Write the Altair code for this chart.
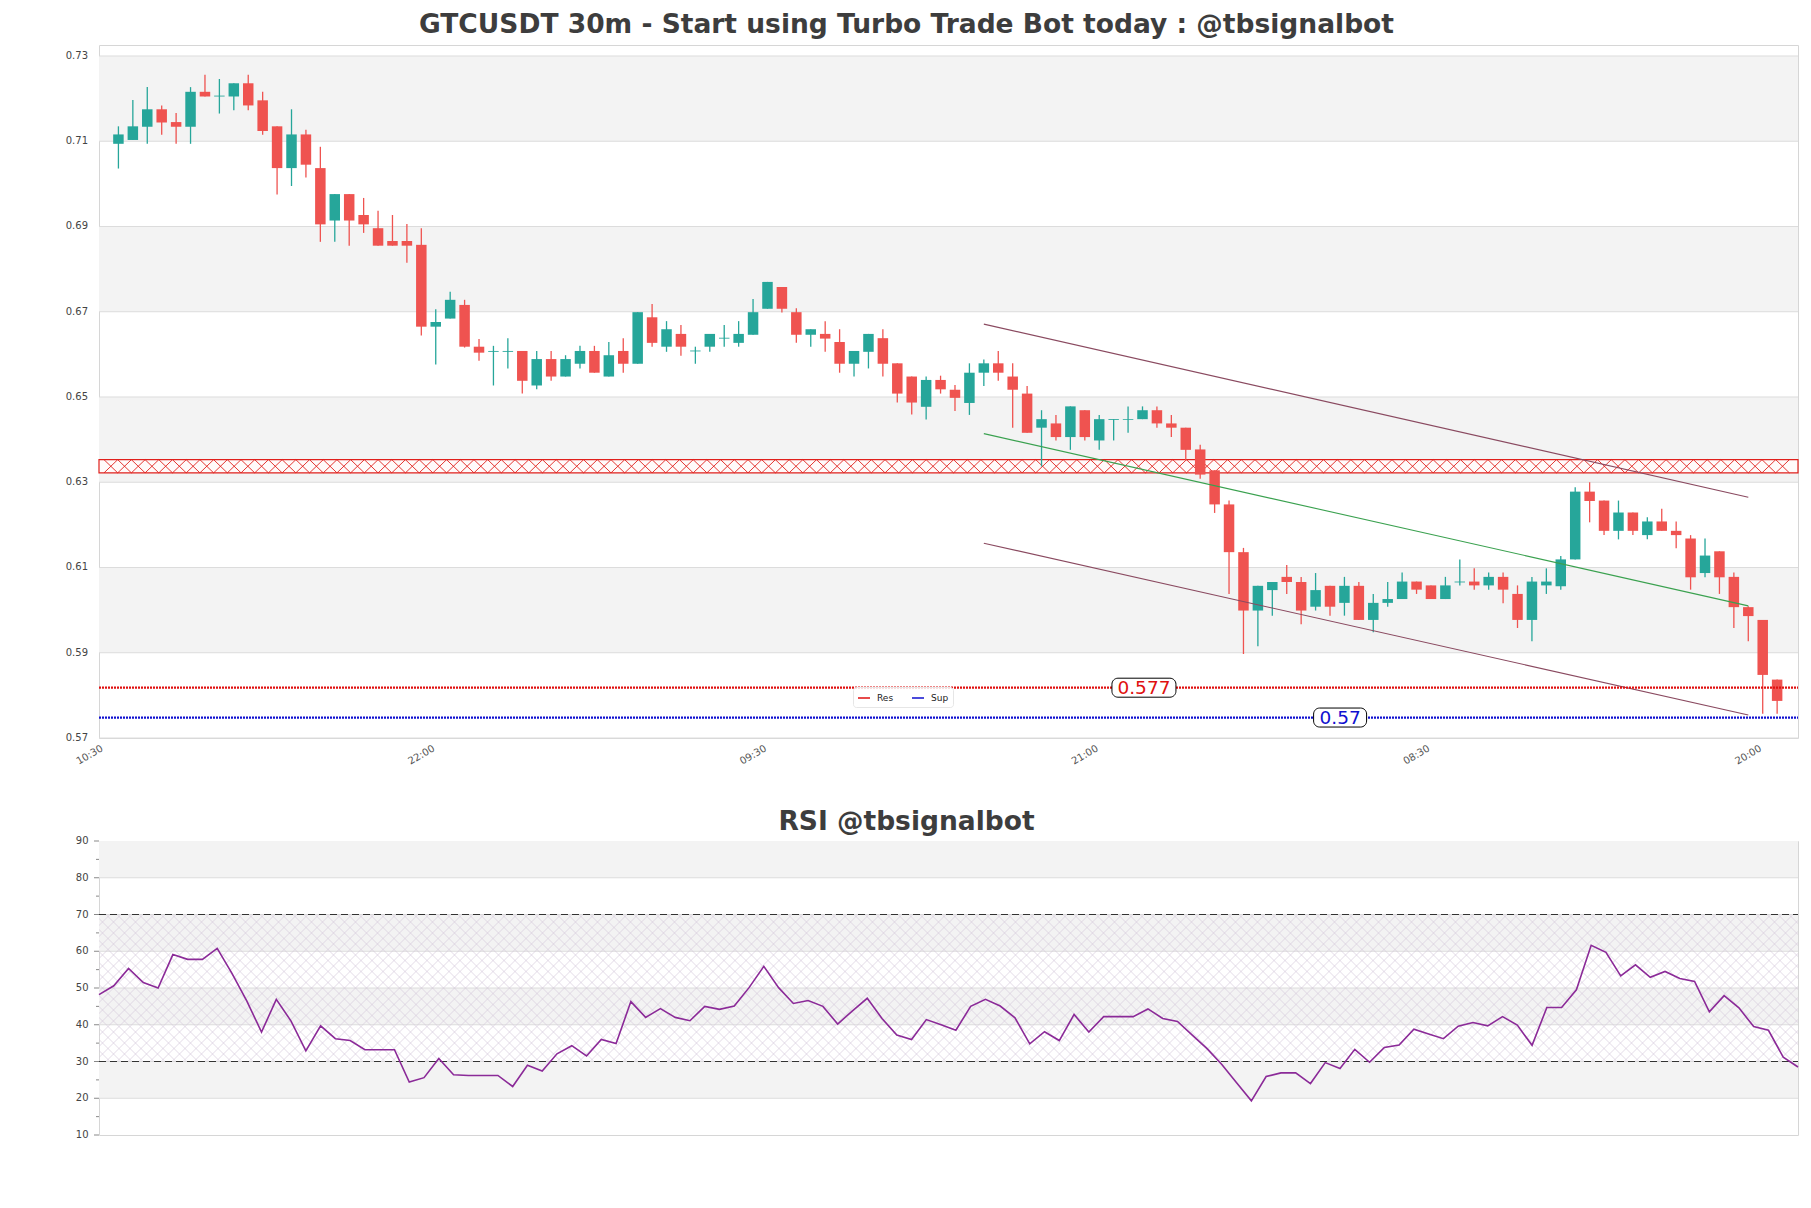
import altair as alt
import numpy as np
import pandas as pd

# ---------------- data ----------------
open_ = [0.7094, 0.7103, 0.7134, 0.7175, 0.7145, 0.7134, 0.7216, 0.7205, 0.7205, 0.7236,
         0.7196, 0.7135, 0.7037, 0.7116, 0.7037, 0.6914, 0.6976, 0.6927, 0.6896, 0.6866,
         0.6866, 0.6857, 0.6665, 0.6684, 0.6716, 0.6618, 0.6606, 0.6606, 0.6608, 0.6527,
         0.6589, 0.6548, 0.6578, 0.6608, 0.6548, 0.6608, 0.6578, 0.6687, 0.6618, 0.6648,
         0.6607, 0.6618, 0.6637, 0.6627, 0.6646, 0.6707, 0.6758, 0.6699, 0.6646, 0.6648,
         0.6629, 0.6578, 0.6606, 0.6638, 0.6579, 0.6548, 0.6477, 0.6540, 0.6517, 0.6486,
         0.6557, 0.6579, 0.6548, 0.6508, 0.6428, 0.6438, 0.6406, 0.6469, 0.6398, 0.6446,
         0.6446, 0.6448, 0.6469, 0.6438, 0.6428, 0.6377, 0.6328, 0.6248, 0.6136, 0.5999,
         0.6047, 0.6078, 0.6066, 0.6008, 0.6057, 0.6017, 0.6057, 0.5977, 0.6017, 0.6026,
         0.6067, 0.6058, 0.6026, 0.6065, 0.6067, 0.6058, 0.6078, 0.6038, 0.5977, 0.6058,
         0.6056, 0.6119, 0.6278, 0.6257, 0.6186, 0.6229, 0.6176, 0.6208, 0.6186, 0.6168,
         0.6087, 0.6138, 0.6078, 0.6007, 0.5977, 0.5837]
high = [0.7135, 0.7197, 0.7227, 0.7184, 0.7166, 0.7227, 0.7256, 0.7246, 0.7236, 0.7256,
        0.7216, 0.7135, 0.7175, 0.7127, 0.7087, 0.6976, 0.6976, 0.6967, 0.6937, 0.6927,
        0.6906, 0.6896, 0.6706, 0.6747, 0.6728, 0.6636, 0.6620, 0.6638, 0.6608, 0.6608,
        0.6608, 0.6598, 0.6620, 0.6620, 0.6629, 0.6638, 0.6699, 0.6718, 0.6678, 0.6669,
        0.6618, 0.6648, 0.6669, 0.6678, 0.6730, 0.6770, 0.6758, 0.6708, 0.6659, 0.6678,
        0.6659, 0.6608, 0.6648, 0.6659, 0.6579, 0.6548, 0.6548, 0.6550, 0.6528, 0.6579,
        0.6588, 0.6608, 0.6579, 0.6526, 0.6469, 0.6458, 0.6478, 0.6469, 0.6458, 0.6448,
        0.6478, 0.6478, 0.6478, 0.6458, 0.6428, 0.6388, 0.6328, 0.6257, 0.6146, 0.6057,
        0.6066, 0.6106, 0.6078, 0.6087, 0.6057, 0.6078, 0.6066, 0.6038, 0.6066, 0.6088,
        0.6067, 0.6058, 0.6078, 0.6119, 0.6098, 0.6088, 0.6088, 0.6058, 0.6078, 0.6098,
        0.6127, 0.6288, 0.6300, 0.6257, 0.6257, 0.6229, 0.6218, 0.6238, 0.6208, 0.6176,
        0.6168, 0.6138, 0.6088, 0.6009, 0.5977, 0.5837]
low = [0.7036, 0.7103, 0.7094, 0.7115, 0.7094, 0.7094, 0.7205, 0.7165, 0.7173, 0.7173,
       0.7115, 0.6975, 0.6995, 0.7015, 0.6864, 0.6864, 0.6855, 0.6885, 0.6855, 0.6855,
       0.6815, 0.6644, 0.6576, 0.6684, 0.6616, 0.6585, 0.6527, 0.6567, 0.6508, 0.6518,
       0.6538, 0.6548, 0.6567, 0.6557, 0.6548, 0.6557, 0.6578, 0.6618, 0.6606, 0.6597,
       0.6578, 0.6606, 0.6618, 0.6618, 0.6646, 0.6707, 0.6698, 0.6627, 0.6618, 0.6606,
       0.6557, 0.6548, 0.6567, 0.6548, 0.6487, 0.6459, 0.6447, 0.6508, 0.6467, 0.6458,
       0.6526, 0.6538, 0.6428, 0.6416, 0.6337, 0.6398, 0.6376, 0.6398, 0.6376, 0.6398,
       0.6416, 0.6448, 0.6428, 0.6406, 0.6351, 0.6308, 0.6228, 0.6038, 0.5897, 0.5915,
       0.5987, 0.6038, 0.5967, 0.5999, 0.5987, 0.5987, 0.5977, 0.5948, 0.6008, 0.6026,
       0.6038, 0.6026, 0.6026, 0.6058, 0.6048, 0.6048, 0.6016, 0.5958, 0.5927, 0.6038,
       0.6048, 0.6119, 0.6206, 0.6176, 0.6166, 0.6176, 0.6166, 0.6186, 0.6145, 0.6048,
       0.6077, 0.6038, 0.5958, 0.5927, 0.5757, 0.5757]
close = [0.7116, 0.7135, 0.7175, 0.7144, 0.7134, 0.7216, 0.7205, 0.7207, 0.7236, 0.7184,
         0.7124, 0.7037, 0.7116, 0.7045, 0.6905, 0.6976, 0.6914, 0.6905, 0.6855, 0.6855,
         0.6855, 0.6665, 0.6676, 0.6728, 0.6618, 0.6604, 0.6608, 0.6608, 0.6538, 0.6589,
         0.6548, 0.6589, 0.6608, 0.6557, 0.6598, 0.6578, 0.6699, 0.6627, 0.6659, 0.6618,
         0.6609, 0.6648, 0.6639, 0.6648, 0.6699, 0.6770, 0.6707, 0.6646, 0.6659, 0.6637,
         0.6578, 0.6608, 0.6648, 0.6578, 0.6508, 0.6487, 0.6540, 0.6518, 0.6498, 0.6557,
         0.6579, 0.6557, 0.6517, 0.6416, 0.6448, 0.6406, 0.6478, 0.6406, 0.6448, 0.6448,
         0.6448, 0.6469, 0.6438, 0.6428, 0.6376, 0.6318, 0.6248, 0.6136, 0.5999, 0.6057,
         0.6066, 0.6066, 0.5999, 0.6047, 0.6008, 0.6057, 0.5977, 0.6017, 0.6026, 0.6067,
         0.6048, 0.6026, 0.6058, 0.6067, 0.6058, 0.6078, 0.6048, 0.5977, 0.6067, 0.6067,
         0.6119, 0.6278, 0.6256, 0.6186, 0.6229, 0.6186, 0.6208, 0.6186, 0.6176, 0.6077,
         0.6128, 0.6077, 0.6007, 0.5986, 0.5848, 0.5787]

rsi = [48.2, 50.6, 55.3, 51.5, 50.0, 59.1, 57.8, 57.8, 60.8, 54.0,
       46.5, 38.0, 46.9, 41.0, 32.9, 39.7, 36.2, 35.7, 33.2, 33.2,
       33.2, 24.4, 25.6, 30.8, 26.4, 26.2, 26.2, 26.2, 23.2, 29.0,
       27.4, 32.1, 34.3, 31.5, 36.0, 34.9, 46.3, 42.0, 44.4, 42.0,
       41.1, 45.0, 44.2, 45.1, 50.1, 55.9, 50.1, 45.8, 46.6, 45.0,
       40.2, 43.8, 47.2, 41.7, 37.2, 36.0, 41.4, 40.0, 38.5, 45.0,
       46.9, 45.1, 41.9, 34.8, 38.1, 35.7, 42.8, 38.0, 42.2, 42.2,
       42.2, 44.3, 41.7, 40.9, 37.2, 33.5, 29.2, 24.2, 19.3, 25.9,
       26.9, 26.9, 24.0, 29.7, 28.1, 33.3, 29.8, 33.8, 34.5, 38.8,
       37.5, 36.2, 39.6, 40.6, 39.7, 42.2, 39.9, 34.4, 44.7, 44.7,
       49.5, 61.6, 59.7, 53.3, 56.3, 52.9, 54.5, 52.6, 51.8, 43.5,
       47.9, 44.6, 39.5, 38.5, 31.2, 28.5]

tick_index = [0, 23, 46, 69, 92, 115]
tick_labels = ["10:30", "22:00", "09:30", "21:00", "08:30", "20:00"]
price_ticks = [0.57, 0.59, 0.61, 0.63, 0.65, 0.67, 0.69, 0.71, 0.73]
rsi_ticks = [10, 20, 30, 40, 50, 60, 70, 80, 90]
rsi_minor = [15, 25, 35, 45, 55, 65, 75, 85]

res_level, res_text, res_pos = 0.5818, "0.577", 72.1
sup_level, sup_text, sup_pos = 0.5748, "0.57", 85.7
zone_low, zone_high = 0.6322, 0.6353

chan_x = [61, 114]
chan_upper = [0.6671, 0.6265]
chan_mid = [0.6414, 0.6010]
chan_lower = [0.6157, 0.5754]

main_title = "GTCUSDT 30m - Start using Turbo Trade Bot today : @tbsignalbot"
rsi_title = "RSI @tbsignalbot"

# ---------------- layout constants ----------------
W, H1, H2 = 1699, 693, 294
X_MAX = 117.1
TITLE_X = 807.5
UP, DOWN = "#26a69a", "#ef5350"
BAND = "#f3f3f3"
GRID = "#dcdcdc"
TXT = "#444444"
RES_C, SUP_C = "#e01010", "#1010d0"

xs = alt.Scale(domain=[0, X_MAX], nice=False, zero=False)
ys = alt.Scale(domain=[0.57, 0.73258], nice=False, zero=False)

candles = pd.DataFrame({"k": np.arange(1, len(open_) + 1), "open": open_, "high": high,
                        "low": low, "close": close})
is_up = "datum.close >= datum.open"

bands = pd.DataFrame({"y": [0.71, 0.67, 0.63, 0.59], "y2": [0.73, 0.69, 0.65, 0.61]})
band_layer = alt.Chart(bands).mark_rect(color=BAND).encode(
    x=alt.value(0), x2=alt.value(W),
    y=alt.Y("y:Q", scale=ys, axis=None), y2="y2:Q")

grid_layer = alt.Chart(pd.DataFrame({"y": price_ticks})).mark_rule(color=GRID, strokeWidth=1).encode(
    x=alt.value(0), x2=alt.value(W), y=alt.Y("y:Q", scale=ys, axis=None))

# tick labels (drawn through the scales)
ylab = pd.DataFrame({"v": price_ticks, "t": ["%.2f" % v for v in price_ticks]})
ylab_layer = alt.Chart(ylab).mark_text(align="right", baseline="middle", fontSize=10, color=TXT,
                                       dx=-11).encode(
    x=alt.value(0), y=alt.Y("v:Q", scale=ys, axis=None), text="t:N")
xlab = pd.DataFrame({"v": tick_index, "t": tick_labels})
xlab_layer = alt.Chart(xlab).mark_text(align="right", baseline="top", fontSize=10, color="#555555",
                                       angle=330, dx=-5).encode(
    x=alt.X("v:Q", scale=xs, axis=None), y=alt.value(H1 + 3), text="t:N")

# hatched resistance zone
p = 0.95
x0 = np.arange(0, X_MAX - p + 1e-9, p)
n = len(x0)
hatch = pd.DataFrame({"x": np.concatenate([x0, x0]), "x2": np.concatenate([x0 + p, x0 + p]),
                      "y": [zone_low] * n + [zone_high] * n, "y2": [zone_high] * n + [zone_low] * n})
zone_fill = alt.Chart(pd.DataFrame({"y": [zone_low], "y2": [zone_high]})).mark_rect(
    fill="#fffafa", stroke="#e0201c", strokeWidth=1.2).encode(
    x=alt.value(0), x2=alt.value(W), y=alt.Y("y:Q", scale=ys, axis=None), y2="y2:Q")
zone_hatch = alt.Chart(hatch).mark_rule(color="#e0201c", strokeWidth=0.9).encode(
    x=alt.X("x:Q", scale=xs, axis=None), x2="x2:Q",
    y=alt.Y("y:Q", scale=ys, axis=None), y2="y2:Q")

wicks = alt.Chart(candles).mark_rule(strokeWidth=1.3).encode(
    x=alt.X("k:Q", scale=xs, axis=None),
    y=alt.Y("low:Q", scale=ys, axis=None), y2="high:Q",
    color=alt.condition(is_up, alt.value(UP), alt.value(DOWN)))
bodies = alt.Chart(candles).mark_bar(size=10.5).encode(
    x=alt.X("k:Q", scale=xs, axis=None),
    y=alt.Y("open:Q", scale=ys, axis=None), y2="close:Q",
    color=alt.condition(is_up, alt.value(UP), alt.value(DOWN)))

chan = pd.DataFrame({"x": [chan_x[0]] * 3, "x2": [chan_x[1]] * 3,
                     "y": [chan_upper[0], chan_lower[0], chan_mid[0]],
                     "y2": [chan_upper[1], chan_lower[1], chan_mid[1]],
                     "kind": ["edge", "edge", "mid"]})
chan_layer = alt.Chart(chan).mark_rule(strokeWidth=1.1).encode(
    x=alt.X("x:Q", scale=xs, axis=None), x2="x2:Q",
    y=alt.Y("y:Q", scale=ys, axis=None), y2="y2:Q",
    stroke=alt.Stroke("kind:N", scale=alt.Scale(domain=["edge", "mid"], range=["#8a4a60", "#3aa14f"]),
                      legend=None))

levels = pd.DataFrame({"series": ["Res", "Sup"], "level": [res_level, sup_level]})
level_layer = alt.Chart(levels).mark_rule(strokeWidth=2.2, strokeDash=[2, 1]).encode(
    x=alt.value(0), x2=alt.value(W),
    y=alt.Y("level:Q", scale=ys, axis=None),
    color=alt.Color("series:N", scale=alt.Scale(domain=["Res", "Sup"], range=[RES_C, SUP_C]),
                    legend=alt.Legend(title=None, orient="none", legendX=754, legendY=642,
                                      direction="horizontal", symbolType="stroke", symbolSize=144,
                                      symbolStrokeWidth=1.6, symbolDash=[10, 0], labelFontSize=9,
                                      labelColor="#222222", padding=4,
                                      fillColor="rgba(255,255,255,0.8)", strokeColor="#e6e6e6",
                                      cornerRadius=3, columnPadding=14, labelOffset=6)))

res_df = pd.DataFrame({"x": [res_pos], "y": [res_level], "text": [res_text]})
sup_df = pd.DataFrame({"x": [sup_pos], "y": [sup_level], "text": [sup_text]})


def level_label(df, box_w, col):
    enc = dict(x=alt.X("x:Q", scale=xs, axis=None), y=alt.Y("y:Q", scale=ys, axis=None))
    box = alt.Chart(df).mark_rect(width=box_w, height=19, cornerRadius=6, fill="white",
                                  stroke="black", strokeWidth=1).encode(**enc)
    txt = alt.Chart(df).mark_text(fontSize=18.5, align="center", baseline="middle",
                                  color=col).encode(text="text:N", **enc)
    return [box, txt]


title1 = alt.Chart(pd.DataFrame({"t": [main_title]})).mark_text(
    fontSize=26.5, fontWeight="bold", color="#3d3d3d", align="center", baseline="middle").encode(
    x=alt.value(TITLE_X), y=alt.value(-20), text="t:N")

anchor = alt.Chart(pd.DataFrame({"a": [0]})).mark_rule(opacity=0).encode(
    x=alt.value(-90), x2=alt.value(-89), y=alt.value(-36), y2=alt.value(-35))

price = alt.layer(band_layer, grid_layer, zone_fill, zone_hatch, wicks, bodies, chan_layer,
                  level_layer, *level_label(res_df, 64, RES_C), *level_label(sup_df, 53, SUP_C),
                  ylab_layer, xlab_layer, title1, anchor).properties(width=W, height=H1)

# ---------------- RSI panel ----------------
rx = alt.Scale(domain=[0, len(rsi) - 1], nice=False, zero=False)
ry = alt.Scale(domain=[10, 90], nice=False, zero=False)
rsi_df = pd.DataFrame({"i": np.arange(len(rsi)), "rsi": rsi})

rbands = pd.DataFrame({"y": [80, 60, 40, 20], "y2": [90, 70, 50, 30]})
r_band = alt.Chart(rbands).mark_rect(color=BAND).encode(
    x=alt.value(0), x2=alt.value(W), y=alt.Y("y:Q", scale=ry, axis=None), y2="y2:Q")
r_grid = alt.Chart(pd.DataFrame({"y": [20, 30, 40, 50, 60, 70, 80]})).mark_rule(color=GRID).encode(
    x=alt.value(0), x2=alt.value(W), y=alt.Y("y:Q", scale=ry, axis=None))

span = 147.0 / (W / (len(rsi) - 1))   # 45-degree diagonals across the 30-70 zone
step = 11.0 / (W / (len(rsi) - 1))
h0 = np.arange(-span, len(rsi), step)
m = len(h0)
rh = pd.DataFrame({"x": np.concatenate([h0, h0]), "x2": np.concatenate([h0 + span, h0 + span]),
                   "y": [30] * m + [70] * m, "y2": [70] * m + [30] * m})
r_hatch = alt.Chart(rh).mark_rule(color="#d2c8d8", strokeWidth=0.7, opacity=0.9, clip=True).encode(
    x=alt.X("x:Q", scale=rx, axis=None), x2="x2:Q",
    y=alt.Y("y:Q", scale=ry, axis=None), y2="y2:Q")
r_lim = alt.Chart(pd.DataFrame({"y": [30, 70]})).mark_rule(color="#333333", strokeDash=[7, 4],
                                                          strokeWidth=1.1).encode(
    x=alt.value(0), x2=alt.value(W), y=alt.Y("y:Q", scale=ry, axis=None))
r_major = alt.Chart(pd.DataFrame({"y": rsi_ticks})).mark_tick(
    orient="horizontal", size=5, thickness=1, color="#555555").encode(
    x=alt.value(-2.5), y=alt.Y("y:Q", scale=ry, axis=None))
r_minor = alt.Chart(pd.DataFrame({"y": rsi_minor})).mark_tick(
    orient="horizontal", size=3, thickness=1, color="#555555").encode(
    x=alt.value(-1.5), y=alt.Y("y:Q", scale=ry, axis=None))
r_lab = alt.Chart(pd.DataFrame({"y": rsi_ticks, "t": [str(v) for v in rsi_ticks]})).mark_text(
    align="right", baseline="middle", fontSize=10, color=TXT, dx=-10.5).encode(
    x=alt.value(0), y=alt.Y("y:Q", scale=ry, axis=None), text="t:N")
r_line = alt.Chart(rsi_df).mark_line(color="#8b2a98", strokeWidth=1.6).encode(
    x=alt.X("i:Q", scale=rx, axis=None), y=alt.Y("rsi:Q", scale=ry, axis=None))
title2 = alt.Chart(pd.DataFrame({"t": [rsi_title]})).mark_text(
    fontSize=26.5, fontWeight="bold", color="#3d3d3d", align="center", baseline="middle").encode(
    x=alt.value(TITLE_X), y=alt.value(-19), text="t:N")

rsi_chart = alt.layer(r_band, r_grid, r_hatch, r_lim, r_major, r_minor, r_lab, r_line,
                      title2).properties(width=W, height=H2)

chart = alt.vconcat(price, rsi_chart, spacing=103, bounds="flush").properties(
    padding=0).configure(font="DejaVu Sans").configure_view(stroke="#d6d6d6")

chart.save("out.html", embed_options={"renderer": "svg", "actions": False})
